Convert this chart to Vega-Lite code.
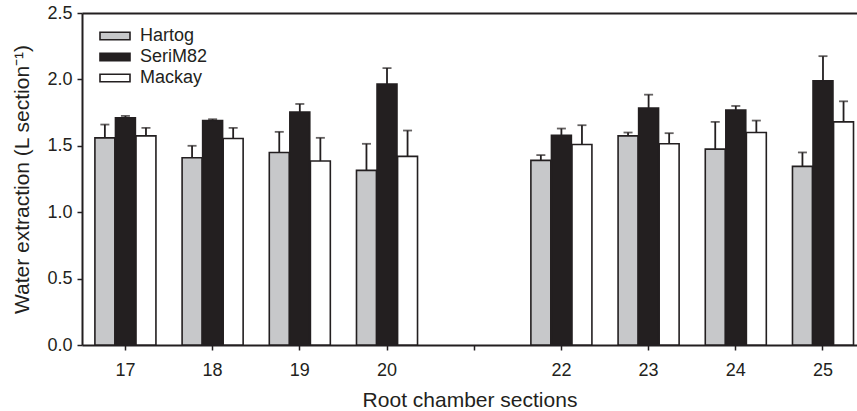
{
  "$schema": "https://vega.github.io/schema/vega-lite/v6.json",
  "width": 775,
  "height": 332,
  "autosize": {"type": "none"},
  "padding": {"left": 82, "top": 13, "right": 0, "bottom": 66},
  "config": {
    "view": {"stroke": null},
    "font": "Liberation Sans",
    "axis": {
      "domainColor": "#231f20",
      "domainWidth": 2,
      "tickColor": "#231f20",
      "tickWidth": 1.5,
      "labelFontSize": 18,
      "labelColor": "#231f20",
      "titleFontSize": 21,
      "titleFontWeight": "normal",
      "titleColor": "#231f20",
      "grid": false
    }
  },
  "data": {
    "values": [
      {"section": "17", "cultivar": "Hartog", "value": 1.56, "upper": 1.66},
      {"section": "17", "cultivar": "SeriM82", "value": 1.71, "upper": 1.725},
      {"section": "17", "cultivar": "Mackay", "value": 1.575, "upper": 1.635},
      {"section": "18", "cultivar": "Hartog", "value": 1.41, "upper": 1.5},
      {"section": "18", "cultivar": "SeriM82", "value": 1.69, "upper": 1.7},
      {"section": "18", "cultivar": "Mackay", "value": 1.555, "upper": 1.635},
      {"section": "19", "cultivar": "Hartog", "value": 1.45, "upper": 1.605},
      {"section": "19", "cultivar": "SeriM82", "value": 1.755, "upper": 1.815},
      {"section": "19", "cultivar": "Mackay", "value": 1.385, "upper": 1.56},
      {"section": "20", "cultivar": "Hartog", "value": 1.315, "upper": 1.515},
      {"section": "20", "cultivar": "SeriM82", "value": 1.965, "upper": 2.085},
      {"section": "20", "cultivar": "Mackay", "value": 1.42, "upper": 1.615},
      {"section": "22", "cultivar": "Hartog", "value": 1.39, "upper": 1.43},
      {"section": "22", "cultivar": "SeriM82", "value": 1.58, "upper": 1.63},
      {"section": "22", "cultivar": "Mackay", "value": 1.51, "upper": 1.655},
      {"section": "23", "cultivar": "Hartog", "value": 1.575, "upper": 1.6},
      {"section": "23", "cultivar": "SeriM82", "value": 1.785, "upper": 1.885},
      {"section": "23", "cultivar": "Mackay", "value": 1.515, "upper": 1.595},
      {"section": "24", "cultivar": "Hartog", "value": 1.475, "upper": 1.68},
      {"section": "24", "cultivar": "SeriM82", "value": 1.77, "upper": 1.8},
      {"section": "24", "cultivar": "Mackay", "value": 1.6, "upper": 1.69},
      {"section": "25", "cultivar": "Hartog", "value": 1.345, "upper": 1.45},
      {"section": "25", "cultivar": "SeriM82", "value": 1.99, "upper": 2.175},
      {"section": "25", "cultivar": "Mackay", "value": 1.68, "upper": 1.835}
    ]
  },
  "layer": [
    {
      "mark": {"type": "bar", "stroke": "#231f20", "strokeWidth": 1.6},
      "encoding": {
        "x": {
          "field": "section", "type": "ordinal",
          "scale": {"domain": ["17", "18", "19", "20", "21", "22", "23", "24", "25"], "paddingInner": 0.3, "paddingOuter": 0.094, "align": 0.787},
          "axis": {"labelAngle": 0, "tickSize": 5, "labelPadding": 11, "title": "Root chamber sections", "titlePadding": 10,
                   "labelExpr": "datum.value == '21' ? '' : datum.value"}
        },
        "xOffset": {"field": "cultivar", "type": "nominal", "scale": {"domain": ["Hartog", "SeriM82", "Mackay"], "paddingInner": 0.03}},
        "y": {
          "field": "value", "type": "quantitative",
          "scale": {"domain": [0, 2.5], "nice": false},
          "axis": {
            "title": "Water extraction (L section⁻¹)",
            "values": [0, 0.25, 0.5, 0.75, 1, 1.25, 1.5, 1.75, 2, 2.25, 2.5],
            "labelExpr": "datum.value % 0.5 === 0 ? format(datum.value, '.1f') : ''",
            "tickSize": {"condition": {"test": "datum.value % 0.5 !== 0", "value": 2.5}, "value": 5},
            "labelPadding": 5,
            "titlePadding": 14
          }
        },
        "fill": {
          "field": "cultivar", "type": "nominal",
          "scale": {"domain": ["Hartog", "SeriM82", "Mackay"], "range": ["#c7c8ca", "#231f20", "#ffffff"]},
          "legend": {
            "title": null, "orient": "none", "legendX": 24, "legendY": 14,
            "symbolType": "M-2,-0.5H2V0.5H-2Z", "symbolSize": 225,
            "symbolStrokeColor": "#231f20", "symbolStrokeWidth": 1.6, "symbolOpacity": 1,
            "labelFontSize": 18, "labelOffset": 16, "rowPadding": 3, "padding": 0, "labelColor": "#231f20"
          }
        }
      }
    },
    {
      "mark": {"type": "rule", "strokeWidth": 1.8, "color": "#231f20"},
      "encoding": {
        "x": {
          "field": "section", "type": "ordinal",
          "axis": {"orient": "top", "labels": false, "ticks": false, "title": null, "domainWidth": 2}
        },
        "xOffset": {"field": "cultivar", "type": "nominal"},
        "y": {"field": "value", "type": "quantitative", "title": "Water extraction (L section⁻¹)"},
        "y2": {"field": "upper"}
      }
    },
    {
      "mark": {"type": "tick", "thickness": 1.8, "size": 9, "color": "#231f20", "orient": "horizontal"},
      "encoding": {
        "x": {"field": "section", "type": "ordinal", "axis": null},
        "xOffset": {"field": "cultivar", "type": "nominal"},
        "y": {"field": "upper", "type": "quantitative", "title": "Water extraction (L section⁻¹)"}
      }
    }
  ],
  "resolve": {"axis": {"x": "independent"}}
}
